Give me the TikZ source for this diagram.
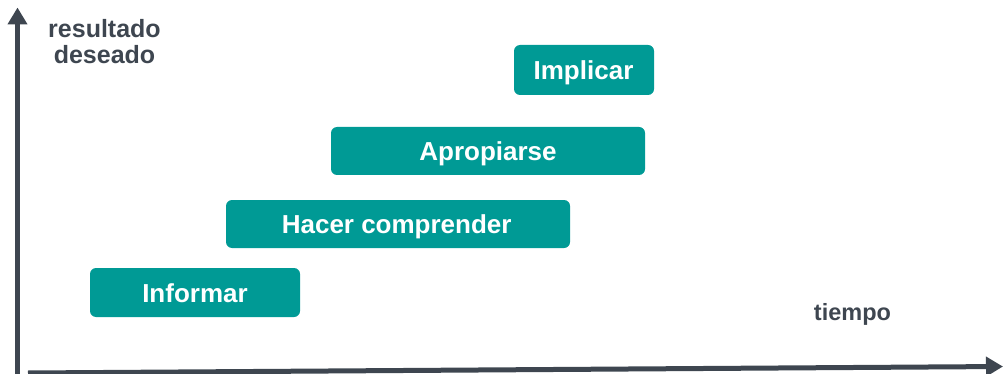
\documentclass[tikz,border=0pt]{standalone}
\usepackage{fontspec}
\setmainfont{Liberation Sans}
\usetikzlibrary{arrows.meta}
\definecolor{teal1}{HTML}{009A95}
\definecolor{axisgray}{HTML}{3E4650}
\tikzset{
  stage/.style={fill=teal1, rounded corners=6pt},
  stagetext/.style={text=white, anchor=base, inner sep=0pt, font=\fontsize{26}{30}\selectfont\bfseries},
  lbl/.style={text=axisgray, font=\fontsize{23.5}{26.6}\selectfont\bfseries, align=center, inner sep=0pt},
  axis/.style={draw=axisgray, line width=5pt, -{Triangle[length=17pt,width=19pt]}}
}
\begin{document}
\begin{tikzpicture}[x=1pt,y=-1pt]
\useasboundingbox (0,0) rectangle (1003,374);
\coordinate (o1) at (17.5,376);
\coordinate (ytop) at (17.5,7.5);
\coordinate (o2) at (28,373);
\coordinate (xend) at (1003,366.5);
\draw[axis] (o1) -- (ytop);
\draw[axis] (o2) -- (xend);
\path[stage] (514,45) rectangle (654,95);
\node[stagetext] (impl) at (583.5,79.5) {Implicar};
\path[stage] (331,127) rectangle (645,175);
\node[stagetext] (apro) at (488,160.5) {Apropiarse};
\path[stage] (226,200) rectangle (570,248);
\node[stagetext] (hace) at (396.7,233.8) {Hacer comprender};
\path[stage] (90,268) rectangle (300,317);
\node[stagetext] (info) at (195,302.5) {Informar};
\node[lbl, anchor=north, font=\fontsize{25}{26.6}\selectfont\bfseries] (res) at (104.5,18.8) {resultado\\deseado};
\node[lbl, anchor=base] (tie) at (852.5,320) {tiempo};
\end{tikzpicture}
\end{document}
